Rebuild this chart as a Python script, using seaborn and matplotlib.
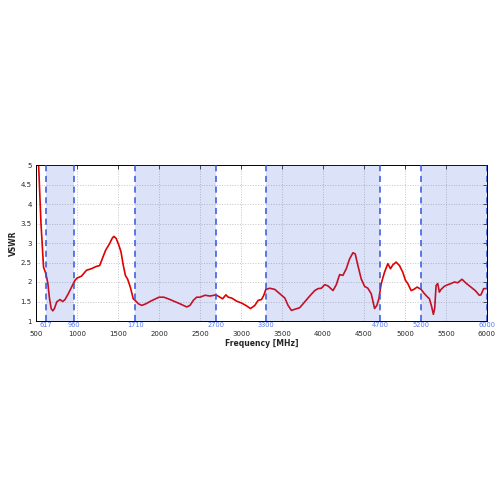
import numpy as np
import pandas as pd
import seaborn as sns
import matplotlib.pyplot as plt

# VSWR curve
freq = [500, 532, 560, 592, 621, 645, 665, 685, 705, 725, 753, 793, 826, 854, 894, 934,
        974, 1000, 1055, 1115, 1175, 1236, 1276, 1308, 1348, 1396, 1429, 1449, 1477, 1509,
        1537, 1565, 1590, 1618, 1650, 1686, 1718, 1750, 1790, 1839, 1899, 1959, 2000, 2060,
        2135, 2257, 2338, 2378, 2419, 2459, 2500, 2561, 2622, 2695, 2743, 2776, 2816, 2845,
        2885, 2946, 3007, 3059, 3116, 3169, 3209, 3250, 3278, 3303, 3351, 3412, 3473, 3534,
        3574, 3615, 3655, 3716, 3777, 3838, 3899, 3939, 3980, 4020, 4061, 4122, 4162, 4203,
        4243, 4284, 4324, 4365, 4393, 4426, 4466, 4507, 4547, 4588, 4629, 4657, 4681, 4710,
        4750, 4791, 4823, 4852, 4892, 4933, 4973, 5006, 5034, 5075, 5107, 5148, 5196, 5237,
        5277, 5298, 5326, 5346, 5362, 5379, 5399, 5419, 5440, 5480, 5521, 5561, 5602, 5642,
        5695, 5744, 5804, 5857, 5906, 5926, 5959, 6000]
vswr = [6.5, 5.0, 3.53, 2.38, 2.21, 1.96, 1.57, 1.32, 1.26, 1.32, 1.49, 1.55, 1.50, 1.55, 1.70, 1.87,
        2.04, 2.10, 2.15, 2.30, 2.34, 2.40, 2.42, 2.59, 2.81, 2.98, 3.12, 3.17, 3.12, 2.95,
        2.77, 2.42, 2.17, 2.07, 1.87, 1.57, 1.51, 1.44, 1.40, 1.44, 1.51, 1.57, 1.61, 1.61,
        1.55, 1.44, 1.36, 1.40, 1.53, 1.61, 1.61, 1.66, 1.64, 1.67, 1.61, 1.57, 1.67, 1.61,
        1.59, 1.51, 1.46, 1.40, 1.32, 1.40, 1.53, 1.55, 1.66, 1.81, 1.84, 1.81, 1.70, 1.59,
        1.40, 1.27, 1.30, 1.34, 1.49, 1.64, 1.78, 1.83, 1.84, 1.93, 1.90, 1.78, 1.93, 2.19,
        2.17, 2.34, 2.59, 2.75, 2.72, 2.42, 2.08, 1.89, 1.84, 1.70, 1.32, 1.40, 1.57, 1.96,
        2.25, 2.47, 2.34, 2.44, 2.51, 2.42, 2.25, 2.04, 1.96, 1.78, 1.81, 1.87, 1.81, 1.70,
        1.61, 1.57, 1.36, 1.17, 1.32, 1.91, 1.96, 1.74, 1.81, 1.89, 1.93, 1.96, 2.00, 1.98,
        2.07, 1.97, 1.87, 1.78, 1.66, 1.67, 1.83, 1.83]

# frequency bands (start, stop)
band_lo = [617, 1710, 3300, 5200]
band_hi = [960, 2700, 4700, 6000]

xticks = [500, 1000, 1500, 2000, 2500, 3000, 3500, 4000, 4500, 5000, 5500, 6000]
yticks = [1, 1.5, 2, 2.5, 3, 3.5, 4, 4.5, 5]

df = pd.DataFrame({'Frequency': freq, 'VSWR': vswr})

sns.set_style("white")
fig = plt.figure(figsize=(5, 5), dpi=100)
ax = fig.add_axes([0.072, 0.358, 0.902, 0.312])

sns.lineplot(data=df, x='Frequency', y='VSWR', color='#e00000', linewidth=1.2, ax=ax, zorder=2)

# shaded bands drawn over the curve, dashed edges
for lo, hi in zip(band_lo, band_hi):
    ax.axvspan(lo, hi, color='#4066dd', alpha=0.18, lw=0, zorder=3)
    for e in (lo, hi):
        ax.axvline(e, color='#3355e0', ls=(0, (4, 3)), lw=1.1, zorder=4)
        ax.text(e, -0.027, str(e), transform=ax.get_xaxis_transform(), ha='center', va='center',
                fontsize=4.8, color='#5577ee')

ax.set_xlim(500, 6000)
ax.set_ylim(1, 5)
ax.set_xticks(xticks)
ax.set_yticks(yticks)
ax.set_xticklabels([str(t) for t in xticks])
ax.set_yticklabels([f'{t:g}' for t in yticks])
ax.grid(True, color='#c4c4c4', ls=':', lw=0.7, zorder=0)
ax.tick_params(direction='in', length=3, width=0.6, labelsize=5, top=True, right=True, pad=7)
ax.tick_params(axis='y', pad=3)
for s in ax.spines.values():
    s.set_color('black')
    s.set_linewidth(0.7)

ax.set_xlabel('Frequency [MHz]', fontsize=5.5, fontweight='bold', labelpad=2)
ax.set_ylabel('VSWR', fontsize=5.5, fontweight='bold', labelpad=2)

fig.savefig('out.png', dpi=100)
